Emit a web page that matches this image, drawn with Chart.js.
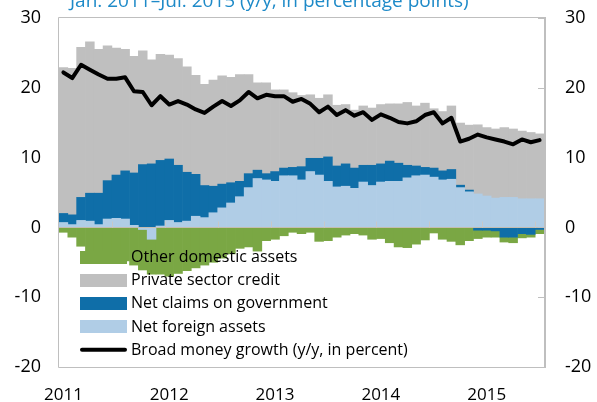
<!DOCTYPE html>
<html>
<head>
<meta charset="utf-8">
<script src="https://cdn.jsdelivr.net/npm/chart.js@4/dist/chart.umd.min.js"></script>
<style>
  html, body { margin: 0; padding: 0; background: #ffffff; }
  #wrap { width: 597px; height: 402px; position: relative; }
</style>
</head>
<body>
<div id="wrap"><canvas id="c" width="597" height="402"></canvas></div>
<script>
// Monthly categories, Jan 2011 - Jul 2015
const years = ['2011', '2012', '2013', '2014', '2015'];
const monthsPerYear = [12, 12, 12, 12, 7];
const months = [];
years.forEach((y, k) => {
  for (let m = 1; m <= monthsPerYear[k]; m++) months.push(y + '-' + String(m).padStart(2, '0'));
});

// Contributions to broad money growth (percentage points)
const netForeignAssets = [
  0.7, 0.4, 1.0, 0.9, 0.4, 1.2, 1.3, 1.2, 0.3, -0.3, -1.7, 0.2,
  1.0, 0.7, 0.9, 1.6, 1.4, 2.1, 2.8, 3.5, 4.4, 5.7, 7.0, 6.8,
  6.6, 7.4, 7.4, 6.8, 8.0, 7.5, 6.6, 5.8, 5.9, 5.6, 6.5, 6.0,
  6.5, 6.6, 6.6, 7.1, 7.4, 7.5, 7.2, 6.8, 6.9, 5.7, 5.1, 4.8,
  4.5, 4.2, 4.3, 4.3, 4.1, 4.1, 4.1
];
const netClaimsOnGovernment = [
  1.3, 1.4, 3.3, 4.0, 4.5, 5.5, 6.2, 6.9, 7.5, 9.0, 9.1, 9.4,
  8.8, 8.2, 7.0, 6.0, 4.6, 3.8, 3.4, 2.9, 2.2, 2.0, 1.2, 0.9,
  1.4, 1.1, 1.2, 1.9, 1.9, 2.4, 3.5, 3.0, 3.2, 2.9, 2.4, 2.9,
  2.6, 2.9, 2.6, 1.8, 1.4, 1.1, 1.3, 1.3, 1.4, 0.35, 0.25, -0.4,
  -0.4, -0.5, -1.4, -1.4, -0.9, -1.0, -0.3
];
const privateSectorCredit = [
  20.9, 21.0, 21.5, 21.7, 20.6, 19.3, 18.2, 17.4, 16.7, 16.3, 14.9, 15.2,
  14.9, 15.3, 15.1, 14.2, 14.5, 15.2, 15.5, 15.1, 15.3, 14.2, 12.5, 13.0,
  11.7, 11.2, 10.7, 10.2, 9.1, 8.6, 8.9, 8.7, 8.5, 8.3, 8.5, 8.2,
  8.5, 8.2, 8.5, 9.0, 8.6, 9.2, 8.5, 8.5, 9.1, 8.9, 9.3, 9.9,
  9.8, 9.9, 10.0, 9.8, 9.7, 9.5, 9.3
];
const otherDomesticAssets = [
  -0.7, -1.4, -2.7, -4.0, -4.3, -4.4, -4.6, -4.8, -5.4, -5.8, -5.0, -6.7,
  -7.0, -6.6, -6.2, -5.8, -5.4, -5.0, -4.4, -3.8, -3.0, -2.8, -3.4, -1.9,
  -1.7, -1.2, -0.7, -0.9, -0.7, -2.0, -1.9, -1.4, -1.1, -0.9, -1.1, -1.7,
  -1.6, -2.2, -2.8, -2.9, -2.4, -1.8, -0.8, -1.7, -2.0, -2.5, -1.9, -1.2,
  -1.0, -0.9, -0.7, -0.8, -0.6, -0.4, -0.6
];
// Broad money growth (y/y, percent)
const broadMoneyGrowth = [
  22.2, 21.4, 23.3, 22.6, 21.9, 21.3, 21.3, 21.5, 19.5, 19.4, 17.5, 18.8,
  17.6, 18.1, 17.6, 16.9, 16.4, 17.3, 18.1, 17.4, 18.2, 19.4, 18.5, 19.0,
  18.8, 18.8, 18.0, 18.4, 17.7, 16.5, 17.3, 16.1, 16.8, 16.0, 16.5, 15.4,
  16.2, 15.7, 15.1, 14.9, 15.2, 16.1, 16.5, 14.9, 15.7, 12.3, 12.7, 13.3,
  12.9, 12.6, 12.3, 11.9, 12.6, 12.2, 12.5
];
const valueTicks = [30, 20, 10, 0, -10, -20];
const subtitle = 'Jan. 2011\u2013Jul. 2015 (y/y, in percentage points)';

const FONT = "'Open Sans', 'DejaVu Sans', sans-serif";
const COLORS = {
  nfa: '#b0cde6',
  ncg: '#0f6ea8',
  psc: '#bfbfbf',
  oda: '#7aa744',
  line: '#000000',
  frame: '#bfbfbf',
  title: '#1e8ac8'
};

// Frame, zero line, half-year tick marks, subtitle and in-plot legend
const decorations = {
  id: 'decorations',
  afterDatasetsDraw(chart) {
    const { ctx, chartArea: a, scales } = chart;
    ctx.save();
    const y0 = Math.round(scales.y.getPixelForValue(0)) + 0.5;
    ctx.strokeStyle = '#c4bdb0';
    ctx.lineWidth = 1;
    ctx.beginPath();
    ctx.moveTo(a.left, y0); ctx.lineTo(a.right, y0);
    ctx.stroke();
    // tick marks every six months on the zero line
    const w = (a.right - a.left) / months.length;
    ctx.strokeStyle = '#c8c8c8';
    ctx.beginPath();
    for (let i = 6; i < months.length; i += 6) {
      const x = Math.round(scales.x.getPixelForValue(i) - w / 2) + 0.5;
      ctx.moveTo(x, y0); ctx.lineTo(x, y0 - 6);
    }
    ctx.stroke();
    ctx.restore();
  },
  afterDraw(chart) {
    const { ctx, chartArea: a, scales } = chart;
    ctx.save();
    // plot frame
    ctx.strokeStyle = COLORS.frame;
    ctx.lineWidth = 1;
    ctx.beginPath();
    ctx.moveTo(a.left - 0.5, a.top - 0.5); ctx.lineTo(a.right, a.top - 0.5);
    ctx.moveTo(a.left - 0.5, a.top - 0.5); ctx.lineTo(a.left - 0.5, a.bottom + 0.5);
    ctx.moveTo(a.left - 0.5, a.bottom + 0.5); ctx.lineTo(a.right, a.bottom + 0.5);
    ctx.stroke();
    ctx.lineWidth = 2;
    ctx.beginPath();
    ctx.moveTo(a.right + 1, a.top - 1); ctx.lineTo(a.right + 1, a.bottom + 1);
    ctx.stroke();
    // inward tick marks on the right axis
    ctx.lineWidth = 1;
    ctx.beginPath();
    valueTicks.forEach(v => {
      const y = Math.round(scales.y2.getPixelForValue(v)) + 0.5;
      ctx.moveTo(a.right - 6, y); ctx.lineTo(a.right, y);
    });
    ctx.stroke();

    // subtitle, partly above the canvas edge
    ctx.fillStyle = COLORS.title;
    ctx.font = '19px ' + FONT;
    ctx.textBaseline = 'alphabetic';
    ctx.textAlign = 'left';
    ctx.fillText(subtitle, 70, 7);

    // legend inside the plot area
    const order = [4, 3, 2, 1, 0];
    const lx = 80, sw = 47, sh = 13, tx = 131;
    let ly = 257;
    ctx.font = '16px ' + FONT;
    ctx.textBaseline = 'middle';
    order.forEach(idx => {
      const ds = chart.data.datasets[idx];
      if (ds.type === 'line') {
        ctx.strokeStyle = ds.borderColor;
        ctx.lineWidth = 4;
        ctx.lineCap = 'round';
        ctx.beginPath();
        ctx.moveTo(lx + 2, ly); ctx.lineTo(lx + sw - 2, ly);
        ctx.stroke();
      } else {
        ctx.fillStyle = ds.backgroundColor;
        ctx.fillRect(lx, Math.round(ly - sh / 2), sw, sh);
      }
      ctx.fillStyle = '#000000';
      ctx.fillText(ds.label, tx, ly + 0.5);
      ly += 23.2;
    });
    ctx.restore();
  }
};

const tickFont = { family: FONT, size: 18 };

// keep the vertical axes from reserving extra room above and below the plot
function fixVerticalAxis(width) {
  return function (s) {
    s.width = width;
    s.paddingTop = 8;
    s.paddingBottom = 8;
  };
}

new Chart(document.getElementById('c'), {
  data: {
    labels: months,
    datasets: [
      {
        type: 'line', label: 'Broad money growth (y/y, in percent)', data: broadMoneyGrowth,
        yAxisID: 'y2', borderColor: COLORS.line, borderWidth: 4, pointRadius: 0,
        tension: 0, order: 0, borderJoinStyle: 'round', borderCapStyle: 'round'
      },
      { type: 'bar', label: 'Net foreign assets', data: netForeignAssets, backgroundColor: COLORS.nfa, yAxisID: 'y', order: 1 },
      { type: 'bar', label: 'Net claims on government', data: netClaimsOnGovernment, backgroundColor: COLORS.ncg, yAxisID: 'y', order: 1 },
      { type: 'bar', label: 'Private sector credit', data: privateSectorCredit, backgroundColor: COLORS.psc, yAxisID: 'y', order: 1 },
      { type: 'bar', label: 'Other domestic assets', data: otherDomesticAssets, backgroundColor: COLORS.oda, yAxisID: 'y', order: 1 }
    ]
  },
  options: {
    responsive: false,
    animation: false,
    devicePixelRatio: 1,
    layout: { padding: { top: 18, left: 0, right: 0, bottom: 0 } },
    datasets: { bar: { barPercentage: 1, categoryPercentage: 1, borderWidth: 0 } },
    plugins: { legend: { display: false }, tooltip: { enabled: false }, title: { display: false } },
    scales: {
      x: {
        stacked: true,
        offset: true,
        grid: { display: false, drawTicks: false },
        border: { display: false },
        ticks: {
          autoSkip: false, maxRotation: 0, minRotation: 0, padding: 18,
          color: '#000', font: { family: FONT, size: 17 },
          callback: (v, i) => months[i].endsWith('-01') ? months[i].slice(0, 4) : ''
        },
        afterFit(s) { s.height = 35; s.paddingLeft = 0; s.paddingRight = 0; }
      },
      y: {
        position: 'left', stacked: true, min: -20, max: 30,
        grid: { display: false, drawTicks: false },
        border: { display: false },
        ticks: { stepSize: 10, padding: 18, color: '#000', font: tickFont },
        afterFit: fixVerticalAxis(59)
      },
      y2: {
        position: 'right', min: -20, max: 30,
        grid: { display: false, drawTicks: false },
        border: { display: false },
        ticks: { stepSize: 10, padding: 21, color: '#000', font: tickFont },
        afterFit: fixVerticalAxis(53)
      }
    }
  },
  plugins: [decorations]
});
</script>
</body>
</html>
